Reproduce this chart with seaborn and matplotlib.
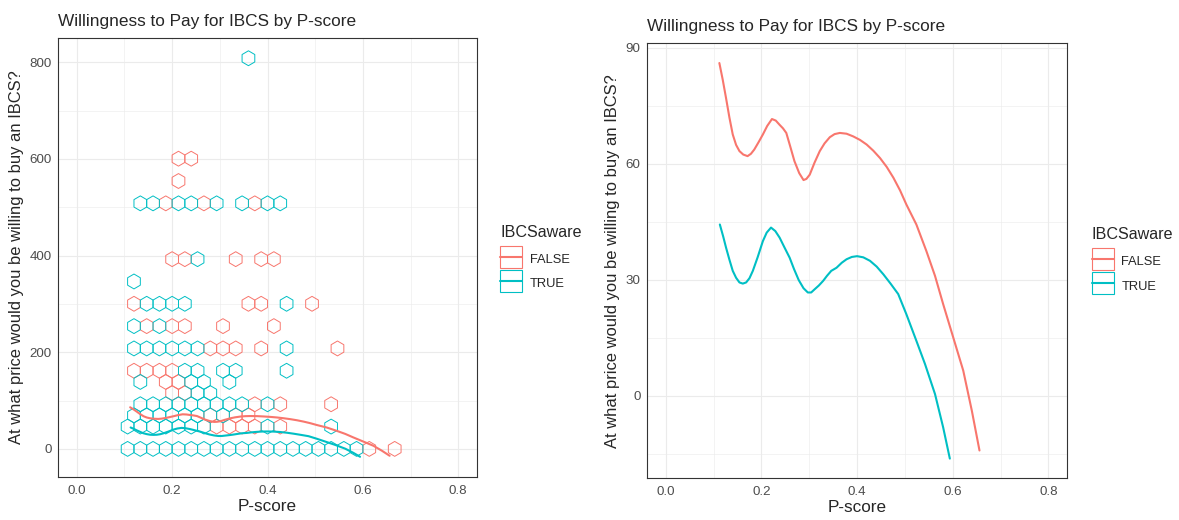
import matplotlib
matplotlib.use("Agg")
import matplotlib.pyplot as plt
from matplotlib.lines import Line2D
from matplotlib.ticker import MultipleLocator
import seaborn as sns
import pandas as pd

groups = ["FALSE", "TRUE"]
colors = {"FALSE": "#F8766D", "TRUE": "#00BFC4"}

# binned (p-score, price) cells, one line per hex row
pscore_false = [
    0.613, 0.667,
    0.293, 0.32, 0.347, 0.373, 0.427,
    0.28, 0.333, 0.36,
    0.373, 0.427, 0.533,
    0.2, 0.227,
    0.187, 0.213,
    0.12, 0.147, 0.173, 0.2,
    0.28, 0.307, 0.333, 0.387, 0.547,
    0.147, 0.2, 0.227, 0.307, 0.413,
    0.12, 0.36, 0.387, 0.493,
    0.2, 0.227, 0.333, 0.387, 0.413,
    0.187, 0.267, 0.373,
    0.213,
    0.213, 0.24,
]
price_false = [
    0, 0,
    50, 50, 50, 50, 50,
    70, 70, 70,
    95, 95, 95,
    115, 115,
    140, 140,
    160, 160, 160, 160,
    210, 210, 210, 210, 210,
    255, 255, 255, 255, 255,
    300, 300, 300, 300,
    395, 395, 395, 395, 395,
    510, 510, 510,
    555,
    600, 600,
]
pscore_true = [
    0.107, 0.133, 0.16, 0.187, 0.213, 0.24, 0.267, 0.293, 0.32, 0.347,
    0.373, 0.4, 0.427, 0.453, 0.48, 0.507, 0.533, 0.56, 0.587,
    0.107, 0.133, 0.16, 0.187, 0.213, 0.24, 0.267, 0.4, 0.533,
    0.12, 0.147, 0.173, 0.2, 0.227, 0.253, 0.307,
    0.133, 0.16, 0.187, 0.213, 0.24, 0.267, 0.293, 0.32, 0.347, 0.4,
    0.253, 0.28,
    0.133, 0.24, 0.267, 0.32,
    0.227, 0.253, 0.307, 0.333, 0.44,
    0.12, 0.147, 0.173, 0.2, 0.227, 0.253, 0.44,
    0.12, 0.173,
    0.147, 0.173, 0.2, 0.227, 0.44,
    0.12,
    0.253,
    0.133, 0.16, 0.213, 0.24, 0.293, 0.347, 0.4, 0.427,
    0.36,
]
price_true = [
    0, 0, 0, 0, 0, 0, 0, 0, 0, 0,
    0, 0, 0, 0, 0, 0, 0, 0, 0,
    50, 50, 50, 50, 50, 50, 50, 50, 50,
    70, 70, 70, 70, 70, 70, 70,
    95, 95, 95, 95, 95, 95, 95, 95, 95, 95,
    115, 115,
    140, 140, 140, 140,
    160, 160, 160, 160, 160,
    210, 210, 210, 210, 210, 210, 210,
    255, 255,
    300, 300, 300, 300, 300,
    350,
    395,
    510, 510, 510, 510, 510, 510, 510, 510,
    810,
]

# smoothed price by p-score (loess curves)
smooth_x_false = [0.112, 0.119, 0.126, 0.133, 0.140, 0.147, 0.154, 0.162, 0.171, 0.178,
                  0.185, 0.194, 0.203, 0.212, 0.222, 0.230, 0.238, 0.245, 0.252, 0.260,
                  0.269, 0.279, 0.288, 0.294, 0.301, 0.311, 0.322, 0.332, 0.343, 0.353,
                  0.364, 0.378, 0.392, 0.406, 0.420, 0.434, 0.448, 0.462, 0.476, 0.490,
                  0.503, 0.524, 0.545, 0.563, 0.580, 0.601, 0.622, 0.640, 0.656]
smooth_y_false = [86.1, 81.8, 77.0, 72.0, 67.6, 64.9, 63.3, 62.4, 62.0, 62.6,
                  63.7, 65.6, 67.6, 69.8, 71.6, 71.2, 70.1, 69.2, 68.0, 64.6,
                  60.7, 57.6, 55.8, 56.1, 57.2, 60.3, 63.3, 65.3, 66.9, 67.7,
                  68.0, 67.8, 67.1, 66.2, 65.0, 63.4, 61.5, 59.2, 56.4, 53.1,
                  49.5, 44.3, 37.4, 31.0, 23.7, 15.1, 6.5, -3.9, -14.2]
smooth_x_true = [0.113, 0.120, 0.126, 0.133, 0.140, 0.147, 0.154, 0.161, 0.168, 0.175,
                 0.182, 0.192, 0.203, 0.211, 0.220, 0.229, 0.238, 0.248, 0.259, 0.268,
                 0.278, 0.288, 0.297, 0.304, 0.311, 0.320, 0.329, 0.337, 0.346, 0.357,
                 0.368, 0.378, 0.389, 0.400, 0.413, 0.427, 0.441, 0.455, 0.470, 0.486,
                 0.503, 0.524, 0.542, 0.563, 0.580, 0.594]
smooth_y_true = [44.3, 41.2, 38.3, 35.2, 32.3, 30.5, 29.3, 29.0, 29.3, 30.4,
                 32.3, 35.8, 40.0, 42.2, 43.5, 42.6, 40.9, 38.4, 35.7, 32.8,
                 29.9, 27.8, 26.7, 26.7, 27.5, 28.5, 29.7, 31.0, 32.3, 33.1,
                 34.4, 35.3, 35.9, 36.1, 35.8, 34.9, 33.4, 31.4, 29.0, 26.3,
                 21.1, 14.2, 8.2, 0.4, -8.2, -16.3]

title = "Willingness to Pay for IBCS by P-score"
xlab = "P-score"
ylab = "At what price would you be willing to buy an IBCS?"

sns.set_style("white")
plt.rcParams["font.family"] = ["Liberation Sans", "DejaVu Sans"]

hex_df = pd.concat([
    pd.DataFrame({"pscore": pscore_false, "price": price_false, "IBCSaware": "FALSE"}),
    pd.DataFrame({"pscore": pscore_true, "price": price_true, "IBCSaware": "TRUE"}),
])
curve_df = pd.concat([
    pd.DataFrame({"pscore": smooth_x_false, "price": smooth_y_false, "IBCSaware": "FALSE"}),
    pd.DataFrame({"pscore": smooth_x_true, "price": smooth_y_true, "IBCSaware": "TRUE"}),
])

fig = plt.figure(figsize=(11.79, 5.2), dpi=100)
ax1 = fig.add_axes([0.0489, 0.0833, 0.356, 0.843])
ax2 = fig.add_axes([0.5485, 0.0802, 0.3569, 0.8365])


def style_axes(ax, major, minor):
    ax.set_axisbelow(True)
    ax.xaxis.set_major_locator(MultipleLocator(0.2))
    ax.xaxis.set_minor_locator(MultipleLocator(0.1))
    ax.yaxis.set_major_locator(MultipleLocator(major))
    ax.yaxis.set_minor_locator(MultipleLocator(minor))
    ax.grid(which="major", color="#EBEBEB", linewidth=0.8)
    ax.grid(which="minor", color="#EBEBEB", linewidth=0.4)
    for s in ax.spines.values():
        s.set_color("#333333")
        s.set_linewidth(0.8)
    ax.tick_params(which="major", direction="out", length=2.7, width=0.8,
                   color="#333333", labelcolor="#4D4D4D", labelsize=9.6, pad=1.6)
    ax.tick_params(axis="x", which="major", pad=3.0)
    ax.tick_params(which="minor", length=0)
    ax.xaxis.set_major_formatter(matplotlib.ticker.FormatStrFormatter("%.1f"))
    ax.set_xlabel(xlab, fontsize=12.3, labelpad=1.5)
    ax.set_ylabel(ylab, fontsize=11.9, labelpad=4)
    ax.set_title(title, loc="left", fontsize=12.4, pad=9)


# hex outlines, FALSE drawn first so TRUE sits on top
for g in groups:
    sub = hex_df[hex_df["IBCSaware"] == g]
    coll = ax1.hexbin(sub["pscore"], sub["price"], gridsize=(30, 20),
                      extent=(0, 0.8, 0, 923.76), mincnt=1,
                      edgecolors=colors[g], facecolors="none", linewidths=0.7, zorder=2)
    coll.set_array(None)
    coll.set_facecolor("none")
    coll.set_edgecolor(colors[g])

for ax in (ax1, ax2):
    sns.lineplot(data=curve_df, x="pscore", y="price", hue="IBCSaware", hue_order=groups,
                 palette=colors, estimator=None, sort=True, legend=False,
                 linewidth=1.5, ax=ax, zorder=3)

ax1.set_xlim(-0.04, 0.84)
ax1.set_ylim(-57.5, 849.5)
ax2.set_xlim(-0.04, 0.84)
ax2.set_ylim(-21.4, 91.2)
style_axes(ax1, 200, 100)
style_axes(ax2, 30, 15)

# legend keys: outlined square (hex key) with the smooth line through it
for ax, pos in ((ax1, (0.4241, 0.568)), (ax2, (0.926, 0.564))):
    handles = [Line2D([], [], color=colors[g], linewidth=1.5, marker="s", markersize=16.2,
                      markerfacecolor="none", markeredgecolor=colors[g], markeredgewidth=0.8)
               for g in groups]
    leg = ax.legend(handles, groups, title="IBCSaware", loc="upper left", numpoints=1,
                    bbox_to_anchor=pos, bbox_transform=fig.transFigure, frameon=False,
                    fontsize=9.3, title_fontsize=11.6, handlelength=1.7, handleheight=1.75,
                    handletextpad=0.6, labelspacing=0.5, borderpad=0, borderaxespad=0,
                    alignment="left")
    leg._legend_box.sep = 7.5

fig.savefig("out.png", dpi=100)
